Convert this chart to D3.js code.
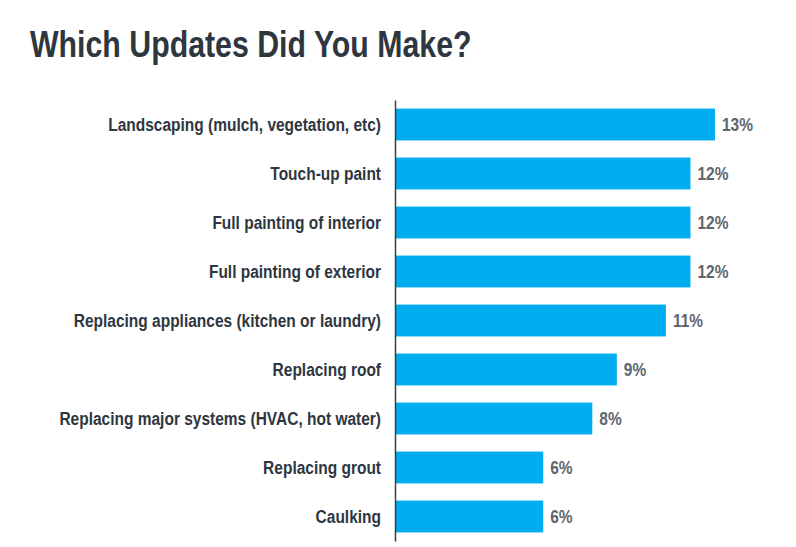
<!DOCTYPE html>
<html><head><meta charset="utf-8">
<script src="https://cdn.jsdelivr.net/npm/d3@7"></script>
<style>body{margin:0;background:#fff;}svg{display:block;}</style>
</head><body>
<svg id="c" width="796" height="547"></svg>
<script>
const titleText = "Which Updates Did You Make?";
const categories = [
  "Landscaping (mulch, vegetation, etc)",
  "Touch-up paint",
  "Full painting of interior",
  "Full painting of exterior",
  "Replacing appliances (kitchen or laundry)",
  "Replacing roof",
  "Replacing major systems (HVAC, hot water)",
  "Replacing grout",
  "Caulking"
];
const values = [13, 12, 12, 12, 11, 9, 8, 6, 6];

const svg = d3.select("#c");
const font = "'Liberation Sans', Arial, sans-serif";
const sy = 1.18;

const x = d3.scaleLinear().domain([0, 13]).range([396, 715]);
const y = d3.scaleBand().domain(categories).range([100, 541]).paddingInner(0.35).paddingOuter(0.175);

svg.append("text")
  .attr("transform", "translate(30,57) scale(1,1.24)")
  .attr("font-family", font).attr("font-weight", "bold").attr("font-size", 30.3)
  .attr("fill", "#2e3640").text(titleText);

svg.selectAll("rect.bar").data(values).join("rect").attr("class", "bar")
  .attr("x", x(0)).attr("y", (d, i) => y(categories[i]))
  .attr("width", d => x(d) - x(0)).attr("height", y.bandwidth())
  .attr("fill", "#00adef");

svg.selectAll("text.cat").data(categories).join("text").attr("class", "cat")
  .attr("transform", d => `translate(381,${y(d) + y.bandwidth() / 2 + 6.3}) scale(1,${sy})`)
  .attr("text-anchor", "end")
  .attr("font-family", font).attr("font-weight", "bold").attr("font-size", 15.5)
  .attr("fill", "#2e3640").text(d => d);

svg.selectAll("text.val").data(values).join("text").attr("class", "val")
  .attr("transform", (d, i) => `translate(${x(d) + 7},${y(categories[i]) + y.bandwidth() / 2 + 6.5}) scale(1,${sy})`)
  .attr("font-family", font).attr("font-weight", "bold").attr("font-size", 15.5)
  .attr("fill", "#5d6670").text(d => d + "%");

svg.append("g").attr("transform", "translate(395,0)")
  .call(d3.axisLeft(y).tickSize(0).tickFormat(""))
  .call(g => g.select(".domain").attr("stroke", "#3a3f45").attr("stroke-width", 1.5));
</script>
</body></html>
